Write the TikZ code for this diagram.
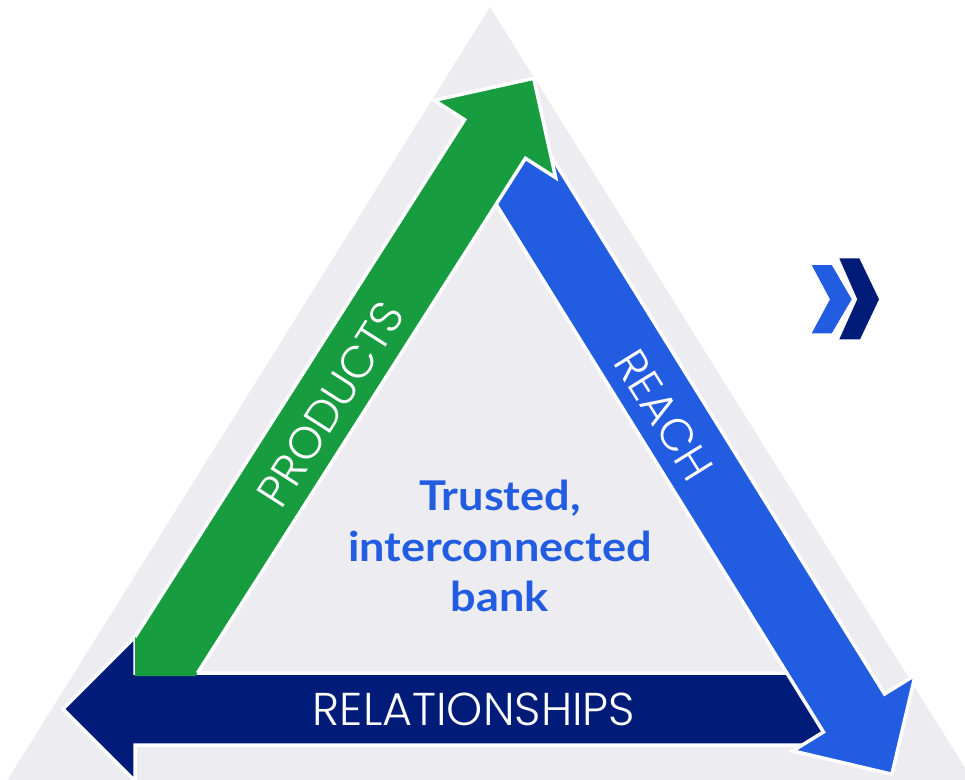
\documentclass[tikz,border=0pt]{standalone}
\usepackage{fontspec}
\setmainfont{Lato}
\newfontfamily\capsfont{Poppins Light}
\newfontfamily\corefont{Lato}[FakeStretch=1.1]
\definecolor{paneGray}{HTML}{ECECF1}
\definecolor{arrowGreen}{HTML}{179C3F}
\definecolor{arrowBlue}{HTML}{225CE1}
\definecolor{arrowNavy}{HTML}{001C78}
\tikzset{
  arrowfill/.style={fill=#1},
  rim/.style={draw=white,line width=3.5pt,line join=miter},
  caplabel/.style={text=white,font=\capsfont\fontsize{45}{45}\selectfont,inner sep=0pt},
  corelabel/.style={text=arrowBlue,font=\corefont\bfseries\fontsize{41}{41}\selectfont,inner sep=0pt,anchor=base}
}
\begin{document}
\begin{tikzpicture}[x=1pt,y=-1pt]
\useasboundingbox (0,0) rectangle (965,779);
\clip (0,0) rectangle (965,779);
% backdrop triangle
\fill[paneGray] (490,7) -- (-5,800) -- (985,800) -- cycle;

% RELATIONSHIPS arrow (pointing left), its right end tucked under the blue head
\filldraw[arrowfill=arrowNavy,rim] (840,673) -- (135,673) -- (135,637) -- (63,709)
  -- (135,781) -- (135,745) -- (840,745) -- cycle;

% REACH arrow (pointing down-right), its tail tucked under the green head
\filldraw[arrowfill=arrowBlue,rim] (479.8,177.9) -- (823.4,732.0) -- (792.8,750.9)
  -- (891.9,774.2) -- (915.2,675.1) -- (884.6,694.0) -- (541.0,139.9) -- cycle;

% PRODUCTS arrow (pointing up-right), its tail meeting the navy bar
\fill[arrowGreen] (135,676) -- (135,637) -- (464.6,119.7) -- (434.3,100.3)
  -- (533.7,78.3) -- (555.7,177.7) -- (525.4,158.3) -- (195.6,676) -- cycle;
\draw[rim] (135,637) -- (464.6,119.7) -- (434.3,100.3) -- (533.7,78.3)
  -- (555.7,177.7) -- (525.4,158.3) -- (197.5,673);

% arrow labels
\node[caplabel,anchor=base,font=\capsfont\fontsize{46}{46}\selectfont] (rel) at (474,725) {RELATIONSHIPS};
\node[caplabel,rotate=57.5] (prod) at (331,404) {PRODUCTS};
\node[caplabel,rotate=-58.2] (reach) at (664,415) {REACH};

% centre statement
\node[corelabel] (l1) at (500,510) {Trusted,};
\node[corelabel] (l2) at (500,561) {interconnected};
\node[corelabel] (l3) at (500,611) {bank};

% double chevron mark
\fill[arrowBlue] (811.7,265) -- (831.7,265) -- (851.7,299.3) -- (831.7,333.3)
  -- (811.7,333.3) -- (830,299.3) -- cycle;
\fill[arrowNavy] (839.3,258.3) -- (859.3,258.3) -- (879,299.3) -- (860,339.3)
  -- (839.3,339.3) -- (857.3,299.3) -- cycle;
\end{tikzpicture}
\end{document}
